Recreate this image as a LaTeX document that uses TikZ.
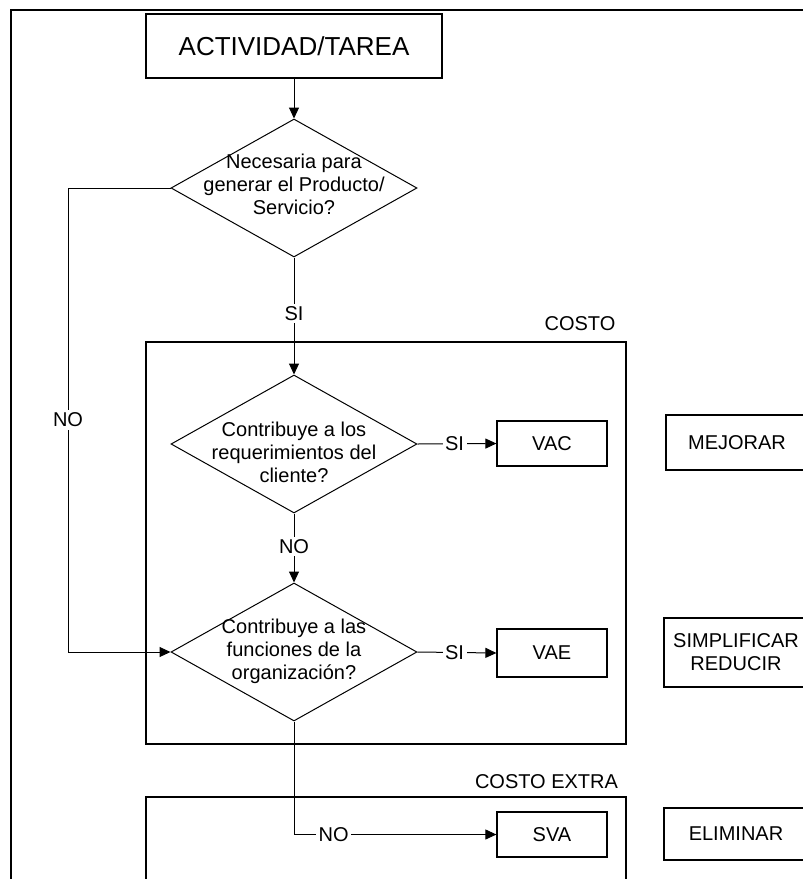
\documentclass[tikz,border=0pt]{standalone}
\usepackage{fontspec}
\setmainfont{Liberation Sans}
\usetikzlibrary{shapes.geometric,arrows.meta}
\begin{document}
\begin{tikzpicture}[x=1pt,y=-1pt,
  line width=1pt,
  box/.style={draw, rectangle, line width=1.2pt, inner sep=0pt, font=\fontsize{20}{23}\selectfont, align=center},
  grp/.style={draw, rectangle, line width=1.2pt, inner sep=0pt},
  dia/.style={draw, diamond, line width=1pt, inner sep=0pt, minimum width=246pt, minimum height=138pt},
  dtext/.style={font=\fontsize{20}{23}\selectfont, align=center, inner sep=0pt},
  lab/.style={fill=white, font=\fontsize{20}{23}\selectfont, inner sep=2.5pt},
  grptitle/.style={font=\fontsize{20}{23}\selectfont, inner sep=0pt},
  arr/.style={-{Triangle[length=11pt,width=10pt]}}
]
\useasboundingbox (0,0) rectangle (803,879);
% outer frame
\draw[line width=2pt] (11,900) -- (11,9.5) -- (830,9.5);

% group boxes
\node[grp, minimum width=480pt, minimum height=402pt] (gcosto) at (386,543) {};
\node[grp, minimum width=480pt, minimum height=110pt] (gextra) at (386,852) {};
\node[grptitle] (tcosto) at (580,323.5) {COSTO};
\node[grptitle] (textra) at (546.5,782) {COSTO EXTRA};

% top box
\node[box, minimum width=296pt, minimum height=64pt, font=\fontsize{26}{29}\selectfont] (act) at (294,46) {ACTIVIDAD/TAREA};

% diamonds
\node[dia] (d1) at (294,188) {};
\node[dia] (d2) at (294,444) {};
\node[dia] (d3) at (294,652) {};
\node[dtext] (t1) at (294,184.5) {Necesaria para\\generar el Producto/\\Servicio?};
\node[dtext] (t2) at (294,452) {Contribuye a los\\requerimientos del\\cliente?};
\node[dtext] (t3) at (294,651) {Contribuye a las\\funciones de la\\organización?};

% result boxes
\node[box, minimum width=110pt, minimum height=45pt] (vac) at (552,443.5) {VAC};
\node[box, minimum width=110pt, minimum height=48pt] (vae) at (552,653) {VAE};
\node[box, minimum width=110pt, minimum height=45pt] (sva) at (552,834.5) {SVA};

% action boxes
\node[box, minimum width=142pt, minimum height=55pt] (mej) at (737,442.5) {MEJORAR};
\node[box, minimum width=144pt, minimum height=69pt] (sim) at (736,652.5) {SIMPLIFICAR\\REDUCIR};
\node[box, minimum width=144pt, minimum height=52pt] (eli) at (736,834) {ELIMINAR};

% connectors
\draw[arr] (act.south) -- (d1.north);
\draw[arr] (d1.south) -- node[lab,pos=0.48]{SI} (d2.north);
\draw[arr] (d2.south) -- node[lab,pos=0.48]{NO} (d3.north);
\draw[arr] (d2.east) -- node[lab,pos=0.47]{SI} (vac.west);
\draw[arr] (d3.east) -- node[lab,pos=0.47]{SI} (vae.west);
\coordinate (c1) at (68,188);
\coordinate (c2) at (68,652);
\draw[arr] (d1.west) -- (c1) -- node[lab,pos=0.5]{NO} (c2) -- (d3.west);
\coordinate (c3) at (d3.south |- sva.west);
\draw[arr] (d3.south) -- (c3) -- node[lab,pos=0.196]{NO} (sva.west);
\end{tikzpicture}
\end{document}
